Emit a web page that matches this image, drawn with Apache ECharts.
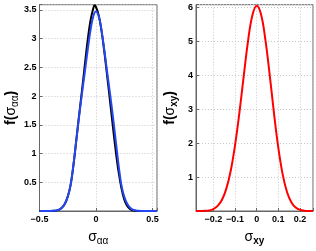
<!DOCTYPE html>
<html><head><meta charset="utf-8">
<script src="https://cdn.jsdelivr.net/npm/echarts@6/dist/echarts.min.js"></script>
<style>html,body{margin:0;padding:0;background:#fff}#c{width:316px;height:251px}</style>
</head><body><div id="c"></div>
<script>
// Left panel: f(sigma_alpha_alpha)
const blackX = [-0.5,-0.45,-0.4,-0.375,-0.35,-0.325,-0.3,-0.275,-0.25,-0.225,-0.2,-0.175,-0.15,-0.125,-0.1,-0.075,-0.05,-0.025,-0.0125,0,0.025,0.05,0.075,0.1,0.125,0.15,0.175,0.2,0.225,0.25,0.275,0.3,0.325,0.35,0.375,0.4,0.45,0.5,0.54];
const blackY = [0,0,0.001,0.004,0.01,0.025,0.058,0.125,0.25,0.45,0.79,1.22,1.66,2.08,2.52,2.95,3.3,3.52,3.58,3.55,3.40,3.12,2.75,2.33,1.9,1.46,1.04,0.68,0.4,0.2,0.09,0.035,0.012,0.004,0.001,0,0,0,0];
const blueX = [-0.5,-0.45,-0.4,-0.375,-0.35,-0.325,-0.3,-0.275,-0.25,-0.225,-0.2,-0.175,-0.15,-0.125,-0.1,-0.075,-0.05,-0.025,0,0.025,0.05,0.075,0.1,0.125,0.15,0.175,0.2,0.225,0.25,0.275,0.3,0.325,0.35,0.375,0.4,0.45,0.5,0.54];
const blueY = [0,0,0.001,0.004,0.01,0.025,0.06,0.13,0.25,0.45,0.8,1.22,1.64,2.03,2.4,2.78,3.13,3.38,3.47,3.38,3.13,2.78,2.4,2.03,1.64,1.22,0.8,0.45,0.25,0.13,0.06,0.025,0.01,0.004,0.001,0,0,0];
const leftXTicks = [-0.5, 0, 0.5];
const leftYTicks = [0.5, 1, 1.5, 2, 2.5, 3, 3.5];
// Right panel: f(sigma_xy)
const redX = [-0.28,-0.26,-0.24,-0.22,-0.2,-0.18,-0.16,-0.14,-0.12,-0.1,-0.08,-0.06,-0.04,-0.02,0,0.02,0.04,0.06,0.08,0.1,0.12,0.14,0.16,0.18,0.2,0.22,0.24,0.26];
const redY = [0,0.001,0.004,0.016,0.055,0.15,0.33,0.66,1.18,1.93,2.88,3.96,5.0,5.76,6.05,5.8,5.06,4.02,2.88,1.86,1.08,0.56,0.26,0.1,0.035,0.01,0.002,0];
const rightXTicks = [-0.2, -0.1, 0, 0.1, 0.2];
const rightYTicks = [1, 2, 3, 4, 5, 6];

const pairs = (xs, ys) => xs.map((x, i) => [x, ys[i]]);
const fmt = (ticks) => (v) => {
  const hit = ticks.find(t => Math.abs(t - v) < 1e-6);
  if (hit === undefined) return '';
  return (hit < 0 ? '\u2212' + String(-hit) : String(hit));
};
const FONT = 'Liberation Sans';
const labelStyle = {fontFamily: FONT, fontSize: 9, fontWeight: 'bold', color: '#000'};
const split = {show: true, lineStyle: {color: '#c8c8c8', type: [1, 2], width: 1}};
const axLine = {show: true, onZero: false, lineStyle: {color: '#666', width: 1}};
const tick = {show: true, inside: true, length: 3, lineStyle: {color: '#666'}};
const rich = {
  b: {fontFamily: FONT, fontSize: 14, fontWeight: 'bold', color: '#000'},
  r: {fontFamily: FONT, fontSize: 14, color: '#000'},
  s: {fontFamily: FONT, fontSize: 10, color: '#000', padding: [8, 0, 0, 0]},
  sb: {fontFamily: FONT, fontSize: 10, fontWeight: 'bold', color: '#000', padding: [8, 0, 0, 0]}
};

const chart = echarts.init(document.getElementById('c'), null, {renderer: 'canvas'});
chart.setOption({
  animation: false,
  grid: [
    {left: 39.5, top: 4.7, width: 117.5, height: 215.3, show: true, borderColor: '#666', borderWidth: 1},
    {left: 196, top: 4.7, width: 118, height: 215.3, show: true, borderColor: '#666', borderWidth: 1}
  ],
  xAxis: [
    {gridIndex: 0, type: 'value', min: -0.5, max: 0.54, interval: 0.5,
     axisLine: axLine, axisTick: tick, splitLine: split,
     axisLabel: Object.assign({margin: 4, formatter: fmt(leftXTicks), showMaxLabel: true}, labelStyle),
     name: '{r|σ}{s|αα}', nameLocation: 'middle', nameGap: 17,
     nameTextStyle: {rich: rich}},
    {gridIndex: 1, type: 'value', min: -0.28, max: 0.26, splitNumber: 5,
     axisLine: axLine, axisTick: tick, splitLine: split,
     axisLabel: Object.assign({margin: 4, formatter: fmt(rightXTicks)}, labelStyle),
     name: '{r|σ}{sb|xy}', nameLocation: 'middle', nameGap: 17,
     nameTextStyle: {rich: rich}}
  ],
  yAxis: [
    {gridIndex: 0, type: 'value', min: 0, max: 3.59, interval: 0.5,
     axisLine: axLine, axisTick: tick, splitLine: split,
     axisLabel: Object.assign({margin: 3, formatter: fmt(leftYTicks)}, labelStyle),
     name: '{b|f(}{r|σ}{s|αα}{b|)}', nameLocation: 'middle', nameGap: 17, nameRotate: 90,
     nameTextStyle: {rich: rich}},
    {gridIndex: 1, type: 'value', min: 0, max: 6.08, interval: 1,
     axisLine: axLine, axisTick: tick, splitLine: split,
     axisLabel: Object.assign({margin: 3, formatter: fmt(rightYTicks)}, labelStyle),
     name: '{b|f(}{r|σ}{sb|xy}{b|)}', nameLocation: 'middle', nameGap: 17, nameRotate: 90,
     nameTextStyle: {rich: rich}}
  ],
  series: [
    {type: 'line', xAxisIndex: 0, yAxisIndex: 0, data: pairs(blackX, blackY), smooth: 0.4,
     showSymbol: false, lineStyle: {color: '#000', width: 2}},
    {type: 'line', xAxisIndex: 0, yAxisIndex: 0, data: pairs(blueX, blueY), smooth: 0.4,
     showSymbol: false, lineStyle: {color: '#2447f2', width: 2}},
    {type: 'line', xAxisIndex: 1, yAxisIndex: 1, data: pairs(redX, redY), smooth: 0.4,
     showSymbol: false, lineStyle: {color: '#ff0000', width: 2}}
  ]
});
</script></body></html>
